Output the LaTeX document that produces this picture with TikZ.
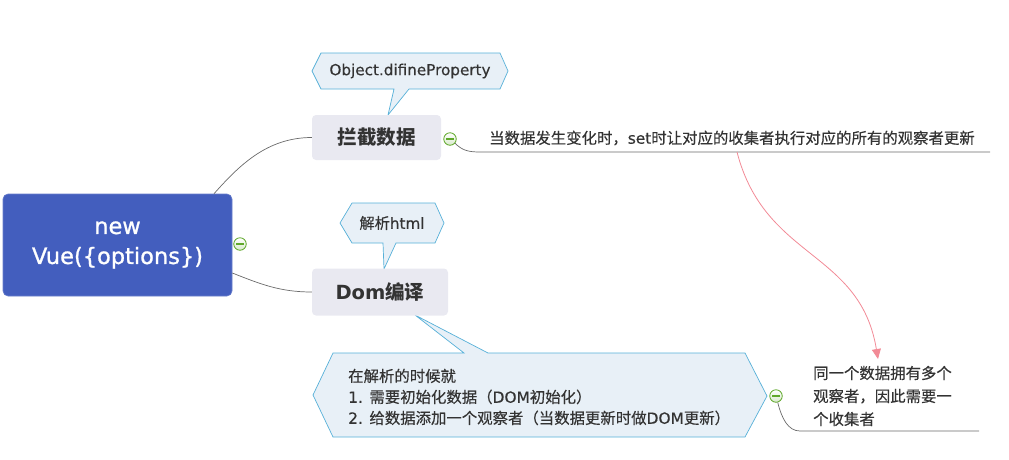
\documentclass[tikz,border=0pt]{standalone}
\usepackage{fontspec}
\setmainfont{DejaVu Sans}
\newfontfamily\latinm{DejaVu Sans}[FakeBold=0.3]
\newfontfamily\latinroot{DejaVu Sans}[FakeBold=1]
\newfontfamily\cjk{Noto Sans CJK SC}
\newfontfamily\cjkm{Noto Sans CJK SC}[FakeBold=0.35]
\usetikzlibrary{arrows.meta}
\newcommand\zh[1]{{\cjkm #1}}
\newcommand\zhb[1]{{\cjk\bfseries #1}}
\definecolor{rootblue}{HTML}{435EBE}
\definecolor{topicfill}{HTML}{E9E9F1}
\definecolor{callfill}{HTML}{E8F0F7}
\definecolor{callline}{HTML}{56B0D8}
\definecolor{linegray}{HTML}{6A6A6A}
\definecolor{mgreen}{HTML}{5FA82A}
\definecolor{txt}{HTML}{333333}
\definecolor{relred}{HTML}{F28A96}
\tikzset{
  rootbox/.style={rounded corners=5pt, fill=rootblue, draw=rootblue!80!white, line width=0.6pt,
    minimum width=229pt, minimum height=102pt, text=white, align=center,
    font=\latinroot\fontsize{22.5}{30}\selectfont},
  topicbox/.style={rounded corners=4pt, fill=topicfill, draw=none, text=txt,
    font=\fontsize{19.5}{23}\selectfont\bfseries},
  calloutshape/.style={fill=callfill, draw=callline, line width=0.7pt, line join=miter},
  calltext/.style={text=txt, font=\latinm\fontsize{15.2}{21}\selectfont, inner sep=0pt},
  bodytext/.style={text=txt, font=\latinm\fontsize{15.4}{21}\selectfont, inner sep=0pt, align=left},
  conn/.style={draw=linegray, line width=0.7pt},
  relation/.style={draw=relred, line width=0.8pt, -{Triangle[length=10pt,width=9pt]}},
  minus/.style={circle, draw=mgreen, line width=0.8pt, top color=white, bottom color=mgreen!25,
    minimum size=12.5pt, inner sep=0pt,
    path picture={\draw[mgreen, line width=1.1pt]
      ([xshift=-3.6pt]path picture bounding box.center) -- ([xshift=3.6pt]path picture bounding box.center);}}
}
\begin{document}
\begin{tikzpicture}[x=1pt, y=-1pt]
\useasboundingbox (0,0) rectangle (1009,459);

% callouts (drawn first so box edges cover the tails)
\path[calloutshape] (312,71) -- (321,53) -- (500,53) -- (508,71) -- (500,89) -- (409,89)
   -- (388,115) -- (394,89) -- (321,89) -- cycle;
\node[calltext] (c1) at (410,71) {Object.difineProperty};

\path[calloutshape] (340,223) -- (352,203) -- (435,203) -- (444,223) -- (435,243) -- (396,243)
   -- (384,269) -- (383,243) -- (352,243) -- cycle;
\node[calltext] (c2) at (392,223) {\zh{解析}html};

\path[calloutshape] (313,395) -- (333,353) -- (464,353) -- (415,315) -- (488,353) -- (745,353)
   -- (767,396) -- (745,437) -- (333,437) -- cycle;
\node[bodytext, anchor=west] (c3) at (348,397)
  {\zh{在解析的时候就}\\
   1. \zh{需要初始化数据（}DOM\zh{初始化）}\\
   2. \zh{给数据添加一个观察者（当数据更新时做}DOM\zh{更新）}};

% main nodes
\node[rootbox] (root) at (117.5,245) {new\\Vue(\{options\})};
\node[topicbox, minimum width=129pt, minimum height=45pt] (t1) at (376.5,137.5) {\zhb{拦截数据}};
\node[topicbox, minimum width=136pt, minimum height=47pt] (t2) at (380,292) {Dom\zhb{编译}};

% collapse markers
\node[minus] (m0) at (240,244) {};
\node[minus] (m1) at (450,139) {};
\node[minus] (m3) at (776,396) {};

% connectors from root
\draw[conn] ([xshift=96.5pt]root.north) .. controls +(25,-28) and +(-45,0) .. (t1.west);
\draw[conn] ([yshift=-28pt]root.east) .. controls +(28,11) and +(-32,0) .. (t2.west);

% description 1
\coordinate (u1a) at (480,152);
\coordinate (u1b) at (990,152);
\draw[conn] (m1.-40) .. controls +(7,7) and +(-12,0) .. (u1a) -- (u1b);
\node[bodytext, anchor=west] (d1) at (489,138)
  {\zh{当数据发生变化时，}set\zh{时让对应的收集者执行对应的所有的观察者更新}};

% description 2
\coordinate (u3a) at (800,431);
\coordinate (u3b) at (979,431);
\draw[conn] (m3.-75) .. controls +(4,16) and +(-12,0) .. (u3a) -- (u3b);
\node[bodytext, anchor=west, font=\latinm\fontsize{15.4}{23}\selectfont] (d2) at (813,396)
  {\zh{同一个数据拥有多个}\\ \zh{观察者，因此需要一}\\ \zh{个收集者}};

% relation arrow
\coordinate (r1) at (737,152);
\coordinate (r2) at (878,359);
\draw[relation] (r1) .. controls (765,260) and (860,250) .. (r2);
\end{tikzpicture}
\end{document}
